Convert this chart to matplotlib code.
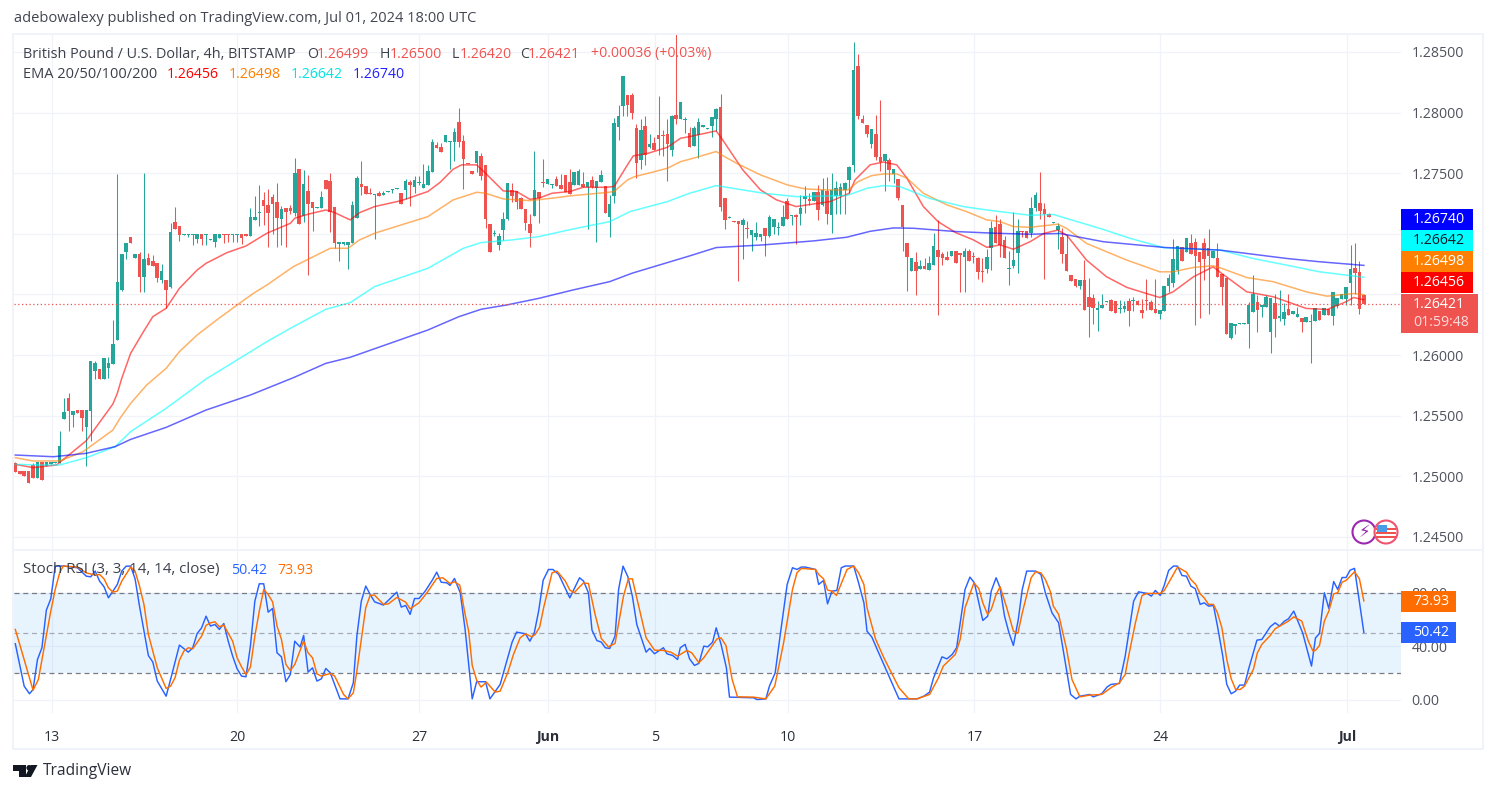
import matplotlib
matplotlib.use("Agg")
import matplotlib.pyplot as plt
from matplotlib.patches import Rectangle, Circle, Polygon
import numpy as np

plt.rcParams['font.family'] = ['Open Sans', 'DejaVu Sans']

opens = [
1.25107,1.25044,1.25047,1.25044,1.25091,1.24986,1.25118,1.25088,1.25099,1.25107,
1.25107,1.25473,1.25644,1.25506,1.25547,1.25547,1.25410,1.25539,1.25872,1.25886,
1.25803,1.25891,1.25927,1.26125,1.26537,1.26854,1.26975,1.26801,1.26834,1.26645,
1.26801,1.26777,1.26763,1.26620,1.26620,1.26565,1.27098,1.27065,1.26994,1.26994,
1.26988,1.26960,1.26997,1.26991,1.26950,1.26936,1.26963,1.26997,1.26997,1.26991,
1.26991,1.26997,1.26997,1.26983,1.27115,1.27172,1.27280,1.27239,1.27302,1.27263,
1.27123,1.27211,1.27214,1.27170,1.27533,1.27150,1.27351,1.27261,1.27214,1.27214,
1.27442,1.27437,1.27219,1.26920,1.26920,1.26909,1.26928,1.27134,1.27412,1.27398,
1.27335,1.27324,1.27340,1.27318,1.27349,1.27365,1.27373,1.27335,1.27362,1.27428,
1.27384,1.27423,1.27382,1.27404,1.27514,1.27734,1.27720,1.27758,1.27758,1.27758,
1.27923,1.27767,1.27577,1.27519,1.27585,1.27643,1.27569,1.27082,1.26997,1.26909,
1.27032,1.27120,1.27360,1.27354,1.27294,1.27206,1.27082,1.27148,1.27346,1.27423,
1.27412,1.27406,1.27453,1.27404,1.27486,1.27431,1.27404,1.27404,1.27415,1.27390,
1.27445,1.27382,1.27431,1.27395,1.27142,1.27316,1.27882,1.28058,1.28146,1.28146,
1.27871,1.27613,1.27890,1.27714,1.27747,1.27816,1.27816,1.27822,1.27692,1.27981,
1.27948,1.27937,1.27835,1.27725,1.27816,1.27885,1.27868,1.27890,1.27948,1.28044,
1.27296,1.27129,1.27104,1.27107,1.27074,1.27049,1.26991,1.26975,1.26977,1.27049,
1.26983,1.27060,1.27046,1.27068,1.27269,1.27151,1.27156,1.27164,1.27291,1.27285,
1.27274,1.27343,1.27239,1.27354,1.27156,1.27316,1.27313,1.27362,1.27445,1.27569,
1.28385,1.27948,1.27899,1.27739,1.27824,1.27637,1.27602,1.27610,1.27497,1.27453,
1.27239,1.26925,1.26691,1.26768,1.26713,1.26735,1.26702,1.26744,1.26867,1.26837,
1.26807,1.26818,1.26859,1.26845,1.26810,1.26862,1.26818,1.26801,1.26697,1.26710,
1.26887,1.27060,1.27082,1.26950,1.26708,1.26735,1.26845,1.27024,1.27024,1.27011,
1.27210,1.27254,1.27204,1.27160,1.27091,1.27031,1.26973,1.26838,1.26660,1.26624,
1.26572,1.26618,1.26478,1.26467,1.26371,1.26385,1.26437,1.26453,1.26445,1.26379,
1.26382,1.26445,1.26448,1.26445,1.26371,1.26448,1.26434,1.26379,1.26343,1.26365,
1.26569,1.26591,1.26701,1.26888,1.26852,1.26921,1.26929,1.26847,1.26926,1.26880,
1.26803,1.26797,1.26668,1.26638,1.26142,1.26244,1.26258,1.26258,1.26258,1.26357,
1.26437,1.26398,1.26398,1.26192,1.26426,1.26302,1.26296,1.26382,1.26338,1.26313,
1.26310,1.26272,1.26274,1.26280,1.26363,1.26330,1.26379,1.26324,1.26409,1.26459,
1.26459,1.26591,1.26717,1.26682,1.26499]

closes = [
1.25039,1.25019,1.25003,1.24948,1.24986,1.25118,1.24970,1.25118,1.25118,1.25118,
1.25250,1.25528,1.25539,1.25539,1.25520,1.25479,1.25547,1.25952,1.25938,1.25803,
1.25974,1.25935,1.26092,1.26603,1.26834,1.26922,1.26922,1.26834,1.26645,1.26793,
1.26744,1.26735,1.26639,1.26694,1.26537,1.27013,1.27040,1.26991,1.27000,1.27000,
1.27000,1.26997,1.26960,1.26997,1.26960,1.26997,1.26997,1.26991,1.26991,1.26997,
1.26997,1.26963,1.26986,1.27140,1.27140,1.27181,1.27230,1.27173,1.27247,1.27129,
1.27203,1.27181,1.27189,1.27500,1.27085,1.27412,1.27247,1.27214,1.27219,1.27302,
1.27371,1.27184,1.26922,1.26933,1.26933,1.26933,1.27239,1.27464,1.27390,1.27332,
1.27329,1.27329,1.27316,1.27338,1.27354,1.27371,1.27379,1.27247,1.27434,1.27404,
1.27445,1.27428,1.27412,1.27519,1.27761,1.27712,1.27676,1.27816,1.27764,1.27841,
1.27758,1.27621,1.27574,1.27497,1.27684,1.27481,1.27123,1.26854,1.27005,1.26986,
1.27123,1.27417,1.27313,1.27266,1.27206,1.27093,1.27010,1.27362,1.27294,1.27417,
1.27453,1.27412,1.27398,1.27371,1.27343,1.27329,1.27508,1.27519,1.27390,1.27431,
1.27384,1.27434,1.27486,1.27175,1.27244,1.27915,1.27973,1.28303,1.28066,1.28000,
1.27588,1.27857,1.27651,1.27745,1.27692,1.27786,1.27810,1.27739,1.27973,1.27945,
1.28088,1.27945,1.27720,1.27871,1.27920,1.27896,1.27871,1.27962,1.28030,1.27225,
1.27115,1.27140,1.27098,1.27082,1.27115,1.27043,1.27032,1.27010,1.27002,1.26983,
1.27142,1.27123,1.27060,1.27137,1.27126,1.27156,1.27142,1.27217,1.27313,1.27274,
1.27343,1.27197,1.27362,1.27164,1.27362,1.27379,1.27387,1.27423,1.27555,1.28352,
1.27973,1.27918,1.27824,1.27863,1.27632,1.27591,1.27659,1.27527,1.27536,1.27296,
1.27054,1.26810,1.26801,1.26694,1.26735,1.26710,1.26760,1.26900,1.26812,1.26801,
1.26785,1.26859,1.26763,1.26826,1.26859,1.26779,1.26812,1.26689,1.26689,1.26807,
1.27046,1.26922,1.26909,1.26804,1.26719,1.26785,1.27024,1.27019,1.26969,1.27212,
1.27320,1.27190,1.27160,1.27141,1.27094,1.27064,1.26838,1.26690,1.26610,1.26574,
1.26616,1.26371,1.26398,1.26385,1.26387,1.26412,1.26445,1.26363,1.26349,1.26385,
1.26407,1.26360,1.26453,1.26412,1.26349,1.26445,1.26371,1.26349,1.26376,1.26569,
1.26632,1.26792,1.26899,1.26778,1.26962,1.26838,1.26816,1.26770,1.26789,1.26816,
1.26858,1.26646,1.26563,1.26178,1.26261,1.26258,1.26264,1.26264,1.26412,1.26508,
1.26368,1.26412,1.26481,1.26475,1.26299,1.26321,1.26354,1.26332,1.26363,1.26335,
1.26275,1.26313,1.26280,1.26387,1.26288,1.26385,1.26330,1.26517,1.26475,1.26503,
1.26558,1.26709,1.26676,1.26382,1.26421]

highs = [
1.25115,1.25044,1.25047,1.25044,1.25107,1.25118,1.25118,1.25118,1.25118,1.25118,
1.25374,1.25646,1.25688,1.25539,1.25547,1.25547,1.25547,1.25952,1.25952,1.25886,
1.25974,1.25982,1.26290,1.27494,1.26834,1.26922,1.26975,1.26834,1.26854,1.27500,
1.26840,1.26826,1.26763,1.26752,1.26620,1.27087,1.27222,1.27065,1.27000,1.27000,
1.27000,1.26997,1.26997,1.26997,1.26960,1.26997,1.26997,1.26997,1.26997,1.26997,
1.26997,1.26997,1.26997,1.27214,1.27316,1.27404,1.27343,1.27368,1.27329,1.27417,
1.27230,1.27211,1.27239,1.27624,1.27533,1.27527,1.27486,1.27261,1.27219,1.27351,
1.27442,1.27500,1.27219,1.26933,1.26933,1.26933,1.27272,1.27480,1.27602,1.27398,
1.27382,1.27329,1.27351,1.27354,1.27354,1.27371,1.27379,1.27335,1.27450,1.27445,
1.27480,1.27480,1.27574,1.27569,1.27783,1.27761,1.27747,1.27816,1.27764,1.27871,
1.28036,1.27813,1.27577,1.27519,1.27684,1.27670,1.27569,1.27082,1.27032,1.27005,
1.27181,1.27417,1.27417,1.27354,1.27307,1.27206,1.27164,1.27684,1.27346,1.27618,
1.27453,1.27412,1.27480,1.27494,1.27486,1.27533,1.27508,1.27533,1.27514,1.27431,
1.27480,1.27434,1.27527,1.27395,1.27321,1.27954,1.28064,1.28303,1.28146,1.28165,
1.27904,1.27945,1.27973,1.27822,1.27797,1.28138,1.27857,1.27948,1.27981,1.28650,
1.28088,1.27962,1.27885,1.27890,1.27954,1.27896,1.27871,1.27962,1.28036,1.28154,
1.27296,1.27148,1.27104,1.27107,1.27129,1.27104,1.27032,1.27098,1.27002,1.27049,
1.27156,1.27123,1.27101,1.27239,1.27294,1.27156,1.27162,1.27321,1.27395,1.27335,
1.27343,1.27404,1.27464,1.27472,1.27500,1.27437,1.27417,1.27431,1.27560,1.28581,
1.28484,1.27981,1.27899,1.27868,1.27981,1.28105,1.27659,1.27624,1.27536,1.27453,
1.27239,1.26925,1.26801,1.26854,1.26785,1.26801,1.26818,1.27005,1.27115,1.26854,
1.26862,1.26859,1.26859,1.26845,1.26881,1.26878,1.26854,1.26812,1.26799,1.26876,
1.27107,1.27156,1.27123,1.26983,1.26856,1.27184,1.27120,1.27024,1.27024,1.27300,
1.27344,1.27507,1.27251,1.27176,1.27094,1.27091,1.27045,1.26990,1.26660,1.26624,
1.26616,1.26783,1.26640,1.26503,1.26445,1.26503,1.26445,1.26459,1.26445,1.26453,
1.26445,1.26467,1.26481,1.26453,1.26459,1.26624,1.26453,1.26624,1.26376,1.26569,
1.26673,1.26957,1.26899,1.26888,1.26962,1.26995,1.26962,1.26847,1.26968,1.27039,
1.26858,1.26926,1.26668,1.26638,1.26261,1.26258,1.26264,1.26264,1.26440,1.26657,
1.26495,1.26412,1.26495,1.26475,1.26508,1.26541,1.26426,1.26503,1.26363,1.26398,
1.26310,1.26313,1.26343,1.26387,1.26363,1.26385,1.26379,1.26517,1.26475,1.26503,
1.26558,1.26907,1.26921,1.26775,1.26500]

lows = [
1.25033,1.25019,1.25003,1.24948,1.24986,1.24986,1.24970,1.25088,1.25099,1.25107,
1.25107,1.25473,1.25374,1.25410,1.25520,1.25377,1.25088,1.25294,1.25803,1.25803,
1.25803,1.25809,1.25927,1.26125,1.26529,1.26796,1.26922,1.26801,1.26524,1.26524,
1.26744,1.26735,1.26601,1.26598,1.26392,1.26557,1.27040,1.26944,1.26994,1.26972,
1.26911,1.26922,1.26911,1.26911,1.26950,1.26895,1.26963,1.26928,1.26931,1.26933,
1.26933,1.26917,1.26986,1.26983,1.27115,1.27068,1.27073,1.26895,1.26997,1.26895,
1.26909,1.26895,1.27165,1.27150,1.27085,1.27101,1.26661,1.27024,1.27214,1.27214,
1.27371,1.27019,1.26881,1.26779,1.26909,1.26713,1.26928,1.27134,1.27321,1.27332,
1.27329,1.26961,1.27316,1.27318,1.27349,1.27335,1.27373,1.27247,1.27288,1.27233,
1.27335,1.27404,1.27382,1.27404,1.27514,1.27712,1.27676,1.27758,1.27533,1.27604,
1.27720,1.27370,1.27574,1.27497,1.27508,1.27445,1.27046,1.26854,1.26983,1.26867,
1.26950,1.27115,1.27266,1.27206,1.27206,1.27032,1.26895,1.27148,1.27093,1.27390,
1.27412,1.27376,1.27398,1.27371,1.27343,1.27329,1.27404,1.27404,1.27390,1.27040,
1.27376,1.26936,1.27431,1.27175,1.26977,1.27252,1.27775,1.27970,1.27973,1.27948,
1.27459,1.27536,1.27569,1.27706,1.27692,1.27651,1.27643,1.27439,1.27643,1.27907,
1.27948,1.27835,1.27720,1.27725,1.27624,1.27885,1.27868,1.27802,1.27852,1.27192,
1.27040,1.27129,1.27098,1.26614,1.26796,1.26969,1.26859,1.26950,1.26942,1.26818,
1.26972,1.26997,1.26991,1.27068,1.27126,1.27076,1.26914,1.27074,1.27170,1.27239,
1.27274,1.27115,1.27230,1.27082,1.27010,1.27162,1.27162,1.27162,1.27335,1.27514,
1.27948,1.27918,1.27802,1.27712,1.27610,1.27522,1.27357,1.27439,1.27423,1.27280,
1.26862,1.26532,1.26691,1.26496,1.26713,1.26710,1.26702,1.26744,1.26331,1.26744,
1.26785,1.26818,1.26763,1.26524,1.26524,1.26779,1.26757,1.26628,1.26601,1.26680,
1.26702,1.26922,1.26812,1.26798,1.26579,1.26716,1.26680,1.26972,1.26969,1.26976,
1.27190,1.27122,1.26629,1.27141,1.27091,1.26874,1.26761,1.26690,1.26610,1.26563,
1.26544,1.26371,1.26151,1.26255,1.26200,1.26385,1.26437,1.26363,1.26349,1.26349,
1.26352,1.26242,1.26365,1.26412,1.26310,1.26371,1.26371,1.26349,1.26299,1.26365,
1.26522,1.26563,1.26673,1.26778,1.26852,1.26838,1.26247,1.26302,1.26618,1.26343,
1.26803,1.26646,1.26417,1.26178,1.26131,1.26173,1.26258,1.26258,1.26060,1.26357,
1.26192,1.26316,1.26398,1.26019,1.26151,1.26283,1.26247,1.26332,1.26338,1.26313,
1.26192,1.26272,1.25936,1.26280,1.26288,1.26330,1.26330,1.26247,1.26385,1.26459,
1.26412,1.26412,1.26508,1.26338,1.26420]

ema20_i = [0,4,9.3,11.6,16,22,23,24,26,28.9,31,34,37,41,43,47.7,52,56.7,62,63,66,70,72,75.5,77.6,81,87,93,95.7,98.7,100.6,104,106,110,113,116,118,121,125,128,133,135,138,139.3,142.7,147,150,152,158,159.2,164,168,171.6,176,180,183.7,188,189.3,192.7,195.7,198.7,201,204.7,208,212,216,219,222,225,228.8,231.8,235,237,241.5,246,250.6,255,258,261,265.6,270,272,277.6,283.6,291,295.7,300,301.7,304]
ema20 = [1.25099,1.25072,1.25094,1.25162,1.25294,1.25597,1.25685,1.25809,1.26015,1.26194,1.26317,1.26386,1.26551,1.26702,1.26757,1.26845,1.26900,1.27005,1.27087,1.27129,1.27162,1.27197,1.27175,1.27115,1.27175,1.27225,1.27274,1.27349,1.27423,1.27533,1.27569,1.27569,1.27500,1.27354,1.27349,1.27285,1.27294,1.27335,1.27349,1.27384,1.27384,1.27390,1.27569,1.27643,1.27665,1.27714,1.27789,1.27802,1.27849,1.27789,1.27527,1.27362,1.27280,1.27225,1.27247,1.27266,1.27335,1.27445,1.27569,1.27593,1.27569,1.27459,1.27225,1.27101,1.27010,1.26950,1.26889,1.26909,1.26873,1.26936,1.27003,1.27031,1.26990,1.26783,1.26646,1.26558,1.26508,1.26475,1.26522,1.26646,1.26728,1.26673,1.26522,1.26481,1.26385,1.26376,1.26440,1.26475,1.26456]

ema50_i = [0,4,10,15.3,22,23.6,26,29.6,34,37,41,45.4,50,53.7,56.7,62.7,66,71,75,77.6,81,87,93,98.7,104,106,110,116,121,125,133,135,138,139.6,142.7,147,150,152,158,159.6,162.6,168,174,178,183,187.7,190,193,195.7,198.7,201,204.7,210,214.4,219,222,225,228.8,235,237,241.5,250.6,258,261,265.6,270,272,277.6,283.6,291,295.7,301.7,304]
ema50 = [1.25154,1.25127,1.25127,1.25204,1.25382,1.25479,1.25602,1.25753,1.25891,1.26029,1.26166,1.26290,1.26413,1.26510,1.26578,1.26730,1.26790,1.26881,1.26881,1.26950,1.27005,1.27074,1.27142,1.27280,1.27343,1.27335,1.27288,1.27274,1.27294,1.27313,1.27340,1.27349,1.27445,1.27472,1.27500,1.27541,1.27596,1.27615,1.27679,1.27643,1.27582,1.27486,1.27404,1.27371,1.27362,1.27362,1.27431,1.27480,1.27494,1.27494,1.27459,1.27335,1.27239,1.27184,1.27115,1.27101,1.27060,1.27054,1.27080,1.27045,1.26921,1.26783,1.26687,1.26687,1.26723,1.26737,1.26715,1.26640,1.26605,1.26522,1.26486,1.26508,1.26498]

ema100_i = [0,5.6,10,16,22.5,26,34,43,50,56.7,62.7,70,75.5,81,93,101,105,112,118,125.7,134,138.6,147,152,158,168.6,176,187.4,192,195.7,199.4,206,213.7,219,225,228.8,234,245.3,251.4,259,271.6,279,286.6,294,304]
ema100 = [1.25099,1.25094,1.25094,1.25154,1.25245,1.25369,1.25561,1.25803,1.25960,1.26111,1.26235,1.26378,1.26433,1.26565,1.26716,1.26881,1.26928,1.26950,1.26977,1.27040,1.27101,1.27184,1.27266,1.27335,1.27398,1.27335,1.27307,1.27316,1.27376,1.27398,1.27390,1.27294,1.27225,1.27197,1.27170,1.27153,1.27160,1.27036,1.26962,1.26885,1.26866,1.26797,1.26742,1.26687,1.26642]

ema200_i = [0,8.6,16,22.5,26,34,43,53,62.7,70,75.5,93,100,105,110.7,118,125.7,134,139,152,158,168.6,180,187.4,192.7,198,202.5,212,221,228.8,235.5,245.3,259,271.6,286.6,294,304]
ema200 = [1.25176,1.25162,1.25190,1.25245,1.25305,1.25404,1.25547,1.25671,1.25814,1.25932,1.25982,1.26207,1.26317,1.26378,1.26413,1.26468,1.26537,1.26606,1.26675,1.26818,1.26887,1.26909,1.26942,1.26972,1.27021,1.27049,1.27046,1.27019,1.27005,1.26997,1.27003,1.26935,1.26888,1.26866,1.26797,1.26770,1.26740]

stoch_k_i = [0,2,3.2,4,5,6,7,8,9,10.8,14,16,17,18,19,20,21,23,24,25,26,27,28,30,31,32,34,35,37,39,40,41,42,43,44,45,46,47,48,49,50,51,52,53,54,55,56,57,58,59,60,61,62,63,64.2,65,66,67,68,69,70,71,73.2,75,76.2,77,78,79,80,81,83,86,87,88,89,90,91,92.4,94,95,96,97.3,98,99,100.3,101.4,103,104,106,107,
109.3,111,112,113,115,116,117,118,119,120.2,121.2,122.5,125,127.2,128.1,129.2,130,131.1,132.1,133,134,135.2,136,137,138.1,139.1,140.1,142.2,143,144.1,146.1,146.9,148.2,149.3,149.9,151,152,153.1,154.1,155.2,156.1,157.2,158,159.1,160.3,161,166.4,167.2,169.2,170,171.3,172.5,174,175.2,176.2,177.2,178.1,180.4,181.1,182.2,183.1,184.1,185.2,186.2,187.1,189,190.1,191.3,192,193.1,194.3,199.2,203.3,204.8,206.1,207,208.9,210,211.2,212.2,213,214.1,215.2,216.2,218.1,219.2,220,221.1,
222,223,224,225,226.1,227,228,230,231.2,232.2,233.7,235.2,237.9,239.1,240,242.2,243,244.9,246.1,247,248.9,250.2,252.1,253.2,255.1,256.1,257,258.1,259,260,261.1,262,263,264,265,266,267.1,268,269,270.1,271,272.2,273.1,274.1,275.1,276,277.1,278,279.9,281,282.9,284,285,286.1,287,288.2,290.2,292.2,293.1,294,295.1,296.1,297.2,298.1,299.1,300,300.9,301.9,304]
stoch_k = [41.9,10.2,4.5,7.7,30.1,38.9,67,75.5,99.9,100,98.7,92.4,91.9,96.2,88.7,84.5,76.2,86.2,96.2,99.9,99.9,90.4,70,33.1,28.2,14,2.7,15.2,40.9,35.6,38.9,49.6,53.8,62.5,55.1,56.3,52.6,57,43.8,32.6,23.2,17.7,17.2,40.1,73.7,86.7,86.7,65.5,68.3,35.1,32.1,13.5,18.9,43.8,39.4,48.1,20.7,23.9,14,15.7,23.4,20.2,0.7,0.7,12.7,47.6,73.7,85,78.7,73.2,70.8,80.5,69.3,70.5,63.8,75.7,75.7,81.2,89.4,95.4,87.9,87.4,85.5,90.7,80,52.6,0.7,13.5,13.5,0.7,
11.5,31.4,43.1,50.6,49.3,43.8,50.1,66.8,89.4,97.4,97.4,93.7,76.2,91.2,88.7,80,52.1,44.3,43.1,38.9,38.4,47.6,82.5,99.9,91.9,77.5,56.3,35.6,38.4,34.4,38.9,34.4,33.1,30.1,38.9,41.4,30.6,25.7,27.2,40.1,39.6,43.1,53.8,41.4,23.9,2,1.5,0.2,0.7,10.2,20.2,50.1,86.2,98.7,97.4,99.2,99.2,97.4,86.2,89.2,71.7,81.2,81.7,98.7,100,100,87.4,72.5,51.3,46.8,37.6,0.7,0.7,2.7,5.7,16.4,32.1,30.6,33.9,38.9,57.5,82.5,91.7,87.4,59.3,62.5,81.2,91.2,
83.7,62.5,50.1,40.6,60,82.5,96.2,96.2,93.7,80,65,57.5,4,0.7,2.7,4,2.2,4.5,9.5,11.5,12.2,32.6,73.7,80.7,79.5,77.5,81.7,78,85.5,96.7,100,99.9,92.9,92.4,85,83,71.3,72.5,70,70.5,55.1,32.6,11.5,4.5,6.5,11,11,22.7,44.6,45.1,54.6,57.5,55.1,58.8,60.5,66.3,50.1,25.2,46.3,49.6,80,68.3,88.4,82.5,91.4,91.4,96.9,98.2,50.42]

stoch_d_i = [0,1,4,5.2,6.3,8,9,10,10.8,14,16,18,19,20,21,22,23,24,26,27,28,29,30,31,32,34,35,36,37,38,39,40,42,43,44,45,46,47,49,50,51,52,53,54,55,56,57,58,59,60,61,62,63,65,66,67,68,69,71,72,74,75,76.2,77,78,79,80,81,83,84.1,86,88,89,91,92.8,95,96.4,98,99,100.2,101.4,102.2,103,104,105,106.2,108.2,
109.3,111,112.3,113.8,115,116.4,117.2,118.2,119.1,121,122.1,124,125,126,127,128.1,129.2,130.7,132.1,133.7,135.2,137.1,138.2,139.1,140.1,142.2,144.1,146.1,147.8,149.3,151.4,152.5,154.1,155.2,157.2,158.2,159.1,160.2,161.6,162.8,166.4,169.2,171.2,173.2,175.2,176.2,177.2,180.4,181.1,182.2,183.1,184.1,185.1,187.5,189,190.1,191.3,192,193.9,195.8,199.2,201.4,203.3,206.1,208.1,209.2,211.9,213,214.1,216.1,217.2,218.1,219.2,220,221.1,
222,223.5,225,226,227,229,230,231.2,232.2,233.3,234,235.2,237,238.2,240,242.2,244.9,247.2,248.9,250.2,250.9,252.5,254,255.1,258.1,259,262,264,265,266.1,267.1,268,269,270.1,271,272,273.1,274.1,275.1,276.1,277.1,279.1,280,281,282.9,284,287,288.2,290,291.5,292.5,293.1,294,295.1,296.1,297.2,298.1,299.1,300,301.9,303,304]
stoch_d = [52.6,41.4,7.2,15.2,35.1,66.3,82.5,94.9,100,99.2,94.9,93.2,93.7,90.4,83.7,80.5,81.2,88.7,99.2,96.2,85,71.3,48.8,36.4,23.9,8.5,10.2,16.4,29.6,36.4,38.9,38.1,47.6,55.6,57.5,58.3,54.6,55.8,43.8,31.4,24.7,18.9,24.4,47.6,66.3,82.5,78.7,73.2,55.1,45.1,26.4,21.9,26.4,43.8,35.1,31.4,19.4,17.7,19.7,17.7,4,0.7,5.2,21.4,45.1,68.8,78.2,78.2,71.3,71.7,76.5,73,68,72.5,80,90.7,91.2,86.9,88.2,85.7,63.8,51.3,25.7,14.7,9.5,13.2,5.7,
6.5,20.2,33.9,46.3,49.3,47.1,48.8,54.3,68.8,94.9,96.2,88.7,82,80,83.7,87.4,86.9,63.8,45.8,39.6,42.1,77.5,90.4,90.4,76.2,46.3,37.1,36.9,35.6,32.6,36.9,35.1,27.7,31.4,40.9,45.6,46.3,40.6,15.2,2.2,2,0.7,10.2,42.6,82.5,94.9,98.2,97.4,93.7,90.4,82,81.2,78,97.4,100,94.9,86.2,68.8,45.6,31.4,9,0.7,0.7,4,16.4,25.2,33.9,45.1,68.8,87.4,83.2,72.5,63.8,67.5,78.7,
84.5,68.8,51.3,49.6,65,91.2,95.7,94.9,89.9,81.2,70,63.8,37.6,15.2,2.2,3.5,4,9.5,12.7,18.9,31.4,57.5,78,79.5,79.5,81.7,99.2,95.4,89.9,86.2,79.2,76.2,71.3,71.3,65,53.8,30.1,15.7,7.7,7.7,10.2,22.7,35.1,41.4,48.1,53.1,58.8,62,58.8,43.8,36.6,36.9,40.6,58.8,66.3,79.2,80,87.9,89.2,95.7,90.4,73.93]

date_tick_pos = [8.2, 50, 91.1, 120.1, 144.2, 174.2, 216.2, 258.1, 300.2]
date_tick_labels = ['13', '20', '27', 'Jun', '5', '10', '17', '24', 'Jul']
price_ticks = [1.285, 1.28, 1.275, 1.27, 1.265, 1.26, 1.255, 1.25, 1.245]
# 1.27000 and 1.26500 lie under the price tags in the reference, so they carry no label
price_tick_labels = ['1.28500', '1.28000', '1.27500', '', '', '1.26000', '1.25500', '1.25000', '1.24500']
stoch_ticks = [0, 40, 80]

W, H = 1496, 793
GREEN, RED = '#26a69a', '#ef5350'
GRID = '#f0f3fa'
TXT = '#3c404b'
fig = plt.figure(figsize=(W / 100, H / 100), dpi=100, facecolor='white')

def axes_px(l, t, r, b):
    return fig.add_axes([l / W, 1 - b / H, (r - l) / W, (b - t) / H])

ax = axes_px(14, 35, 1401, 549)
ax2 = axes_px(14, 550, 1401, 713)
XL = ((14 - 15.3) / 4.436, (1401 - 15.3) / 4.436)

for a in (ax, ax2):
    a.set_xlim(*XL)
    for s in a.spines.values():
        s.set_visible(False)
    a.set_xticks(date_tick_pos)
    a.grid(True, color=GRID, lw=0.9)
    a.set_axisbelow(True)
    a.yaxis.tick_right()
    a.tick_params(axis='both', length=0, labelsize=10.2, labelcolor='#50535e', pad=7.5)
ax.set_ylim(1.24401, 1.28640)
ax.set_yticks(price_ticks, price_tick_labels)
ax.tick_params(axis='x', labelbottom=False)

o, h, l, c = map(np.array, (opens, highs, lows, closes))
x = np.arange(len(o))
col = np.where(c >= o, GREEN, RED)
ax.vlines(x, l, h, colors=col, lw=0.75, zorder=2)
ax.bar(x, np.maximum(np.abs(c - o), 0.00008), bottom=np.minimum(o, c), width=0.8, color=col, lw=0, zorder=3)

for xs, ys, colr in [(ema20_i, ema20, '#ff0000'), (ema50_i, ema50, '#ff7f00'), (ema100_i, ema100, '#00ffff'), (ema200_i, ema200, '#0000ff')]:
    ax.plot(xs, ys, color=colr, alpha=0.6, lw=1.1, zorder=4, solid_joinstyle='round')
ax.axhline(closes[-1], color=RED, lw=0.9, ls=(0, (1, 2)), zorder=5)

ax2.set_ylim((699.8 - 713) / 1.338, (699.8 - 550) / 1.338)
ax2.set_yticks(stoch_ticks, [f'{v:.2f}' for v in stoch_ticks])
ax2.set_xticklabels(date_tick_labels)
ax2.tick_params(axis='x', pad=12, labelcolor='#2a2e39', labelsize=10.2)
for lab in ax2.get_xticklabels():
    if lab.get_text() in ('Jun', 'Jul'):
        lab.set_fontweight('bold')
ax2.axhspan(20, 80, color='#2196f3', alpha=0.1, lw=0, zorder=1)
ax2.axhline(80, color='#787b86', lw=0.9, ls=(0, (4, 3)), zorder=2)
ax2.axhline(50, color='#787b86', alpha=0.6, lw=0.9, ls=(0, (4, 3)), zorder=2)
ax2.axhline(20, color='#787b86', lw=0.9, ls=(0, (4, 3)), zorder=2)
ax2.plot(stoch_k_i, stoch_k, color='#2962ff', lw=1.05, zorder=3, clip_on=False)
ax2.plot(stoch_d_i, stoch_d, color='#ff6d00', lw=1.05, zorder=4, clip_on=False)

# overlay in pixel coordinates: frame, legends, tags, logo
ov = fig.add_axes([0, 0, 1, 1], zorder=10)
ov.set_xlim(0, W)
ov.set_ylim(H, 0)
ov.axis('off')
ov.patch.set_alpha(0)
for r in [(12, 33, 1471, 2), (12, 748, 1471, 2), (12, 33, 2, 717), (1482, 33, 2, 717), (14, 549, 1468, 1.5)]:
    ov.add_patch(Rectangle((r[0], r[1]), r[2], r[3], color=GRID, lw=0))

FS = 10.2
def t(px, py, s, color=TXT, size=FS, weight='normal', ha='left'):
    ov.text(px, py, s, color=color, fontsize=size, fontweight=weight, ha=ha, va='center')

t(14, 19, 'adebowalexy published on TradingView.com, Jul 01, 2024 18:00 UTC', color='#434651', size=10.5)
t(23, 54, 'British Pound / U.S. Dollar, 4h, BITSTAMP', size=10.4)
for px, lab, val, off in [(307, 'O', '1.26499', 10), (380, 'H', '1.26500', 10), (452, 'L', '1.26420', 7.5), (520, 'C', '1.26421', 7.5)]:
    t(px, 54, lab)
    t(px + off, 54, val, color=RED)
t(591, 54, '+0.00036 (+0.03%)', color=RED)
t(23, 75, 'EMA 20/50/100/200', size=10.5)
for px, val, colr in [(167, '1.26456', '#ff0000'), (229, '1.26498', '#ff7f00'), (291, '1.26642', '#00e5e5'), (353, '1.26740', '#2222ff')]:
    t(px, 75, val, color=colr)
t(23, 570, 'Stoch RSI (3, 3, 14, 14, close)', size=10.9)
t(231, 570, '50.42', color='#2962ff')
t(277, 570, '73.93', color='#ff6d00')

for top, bot, right, bg, fg, s in [(209, 230, 1473, '#0000ff', 'white', '1.26740'),
                                   (230, 251, 1473, '#00ffff', '#131722', '1.26642'),
                                   (251, 272, 1473, '#ff7f00', 'white', '1.26498'),
                                   (272, 293, 1473, '#ff0000', 'white', '1.26456')]:
    ov.add_patch(Rectangle((1401, top), right - 1401, bot - top, color=bg, lw=0))
    t(1413, (top + bot) / 2, s, color=fg)
ov.add_patch(Rectangle((1401, 294), 77, 39, color=RED, lw=0))
t(1413, 304, '1.26421', color='white')
t(1413, 322.5, '01:59:48', color='#fbdcdc')
ov.add_patch(Rectangle((1401, 591), 55, 21, color='#ff6d00', lw=0))
t(1413, 601.5, '73.93', color='white')
ov.add_patch(Rectangle((1401, 622), 55, 21, color='#2962ff', lw=0))
t(1413, 632.5, '50.42', color='white')

# event icons
ov.add_patch(Circle((1364, 532), 11.5, fc='white', ec='#9c27b0', lw=1.5))
ov.text(1364, 532, '\u26a1', color='#9c27b0', fontsize=12, ha='center', va='center', family='DejaVu Sans')
ov.add_patch(Circle((1386, 532), 11.5, fc='white', ec='#f05470', lw=1.5))
for yy in (528, 532, 536):
    ov.add_patch(Rectangle((1376, yy), 20, 2.4, color='#ef5350', lw=0))
ov.add_patch(Rectangle((1377, 525), 10, 7, color='#4a9be8', lw=0))

# logo
LOGO = '#131722'
ov.add_patch(Polygon([(12.7, 765), (26, 765), (26, 777), (19.5, 777), (19.5, 770.7), (12.7, 770.7)], color=LOGO, lw=0))
ov.add_patch(Circle((29.2, 767.8), 2.8, color=LOGO, lw=0))
ov.add_patch(Polygon([(37.5, 765), (31, 777), (24.7, 777), (31, 765)], color=LOGO, lw=0))
t(42.5, 771, 'TradingView', color='#2a2e39', size=11.2)

fig.savefig('out.png', dpi=100, facecolor='white')
